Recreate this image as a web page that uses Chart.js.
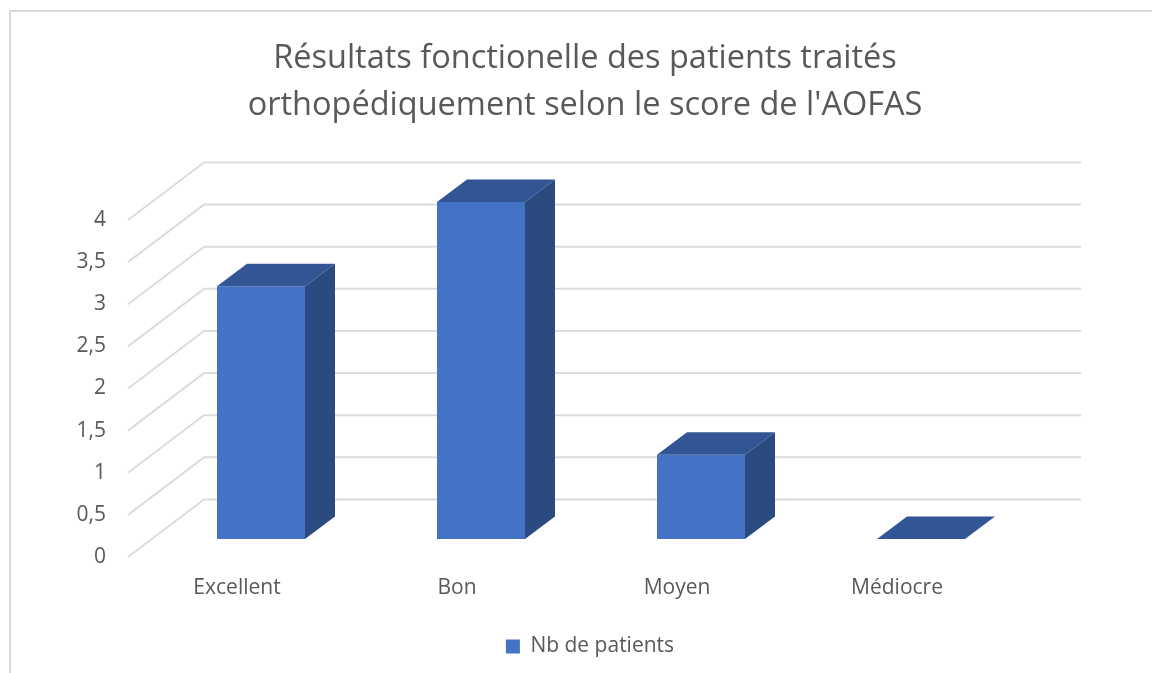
<!DOCTYPE html>
<html>
<head>
  <meta charset="utf-8">
  <script src="https://cdn.jsdelivr.net/npm/chart.js"></script>
  <style>
    html, body { margin: 0; padding: 0; background: #fff; overflow: hidden; }
    canvas { display: block; }
  </style>
</head>
<body>
  <canvas id="barChart" width="1152" height="673"></canvas>
  <script>
    const categories = ['Excellent', 'Bon', 'Moyen', 'Médiocre'];
    const nbPatients = [3, 4, 1, 0];
    const yTickLabels = ['0', '0,5', '1', '1,5', '2', '2,5', '3', '3,5', '4'];
    const titleLines = ['Résultats fonctionelle des patients traités', "orthopédiquement selon le score de l'AOFAS"];
    const seriesName = 'Nb de patients';

    const fontName = '"Open Sans", "Noto Sans", sans-serif';

    // fake 3D: walls and bar faces are worked out from the real scales
    const fake3d = {
      id: 'fake3d',
      afterLayout(chart) {
        // legend sits a little right of the title in the original
        chart.legend.left += 5;
        chart.legend.right += 5;
      },
      beforeDraw(chart) {
        const ctx = chart.ctx;
        ctx.save();
        ctx.strokeStyle = '#D9D9D9';
        ctx.lineWidth = 2;
        ctx.strokeRect(10, 11, 1400, 900);
        ctx.restore();
      },
      beforeDatasetsDraw(chart) {
        const ctx = chart.ctx;
        const y = chart.scales.y;
        ctx.save();
        ctx.strokeStyle = '#DCDCDC';
        ctx.lineWidth = 2;
        y.ticks.forEach(t => {
          const py = y.getPixelForValue(t.value);
          ctx.beginPath();
          ctx.moveTo(128, py + 18);
          ctx.lineTo(204, py - 39.5);
          ctx.lineTo(1081, py - 39.5);
          ctx.stroke();
        });
        ctx.restore();
      },
      afterDatasetsDraw(chart) {
        const ctx = chart.ctx;
        const dx = 30, dy = 22.5;
        ctx.save();
        chart.getDatasetMeta(0).data.forEach(bar => {
          const l = bar.x - bar.width / 2, r = bar.x + bar.width / 2;
          const top = bar.y, bottom = bar.base;
          // top face
          ctx.fillStyle = '#325695';
          ctx.beginPath();
          ctx.moveTo(l, top);
          ctx.lineTo(l + dx, top - dy);
          ctx.lineTo(r + dx, top - dy);
          ctx.lineTo(r, top);
          ctx.closePath();
          ctx.fill();
          // side face
          ctx.fillStyle = '#2A4A80';
          ctx.beginPath();
          ctx.moveTo(r, top);
          ctx.lineTo(r + dx, top - dy);
          ctx.lineTo(r + dx, bottom - dy);
          ctx.lineTo(r, bottom);
          ctx.closePath();
          ctx.fill();
        });
        ctx.restore();
      }
    };

    new Chart(document.getElementById('barChart').getContext('2d'), {
      type: 'bar',
      data: {
        labels: categories,
        datasets: [{
          label: seriesName,
          data: nbPatients,
          backgroundColor: '#4472C4',
          categoryPercentage: 1,
          barPercentage: 0.4
        }]
      },
      plugins: [fake3d],
      options: {
        responsive: false,
        animation: false,
        layout: { padding: { left: 18, right: 0, top: 0, bottom: 6 } },
        scales: {
          x: {
            afterFit(scale) { scale.height = 87; },
            grid: { display: false, drawTicks: false },
            border: { display: false },
            ticks: {
              color: '#595959',
              font: { family: fontName, size: 21 },
              padding: 36,
              labelOffset: -24,
              maxRotation: 0
            }
          },
          y: {
            min: 0,
            max: 4,
            afterFit(scale) { scale.width = 133; },
            grid: { display: false, drawTicks: false },
            border: { display: false },
            ticks: {
              stepSize: 0.5,
              color: '#595959',
              font: { family: fontName, size: 21 },
              padding: 45,
              labelOffset: 18,
              callback: (v, i) => yTickLabels[i]
            }
          },
          // empty axis on the right, keeps title and legend centred on the whole frame
          yRight: {
            position: 'right',
            afterFit(scale) { scale.width = 121; },
            grid: { display: false, drawTicks: false },
            border: { display: false },
            ticks: { display: false }
          }
        },
        plugins: {
          title: {
            display: true,
            text: titleLines,
            color: '#595959',
            font: { family: fontName, size: 32.5, weight: 'normal', lineHeight: 1.446 },
            padding: { top: 35, bottom: 73 }
          },
          legend: {
            display: true,
            position: 'bottom',
            labels: {
              color: '#595959',
              font: { family: fontName, size: 21 },
              boxWidth: 14,
              boxHeight: 14,
              padding: 10
            }
          },
          tooltip: { enabled: false }
        }
      }
    });
  </script>
</body>
</html>
